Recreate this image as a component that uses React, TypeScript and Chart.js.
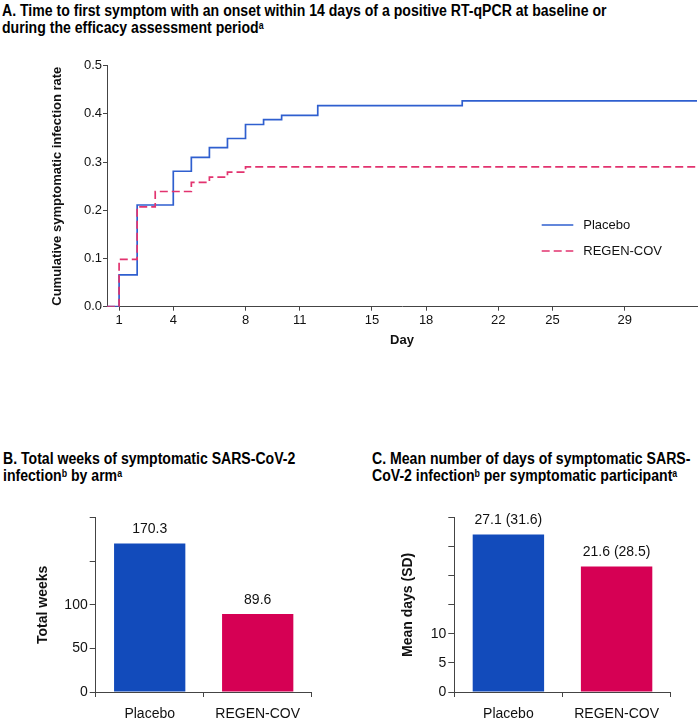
import React, { useEffect, useRef } from "react";
import { Chart, registerables } from "chart.js";

Chart.register(...registerables);

// ---------- Data ----------
const tickDays = [1, 4, 8, 11, 15, 18, 22, 25, 29];
const yTicksA = [0, 0.1, 0.2, 0.3, 0.4, 0.5];

const placeboDays = [0.33, 1, 2, 4, 5, 6, 7, 8, 9, 10, 12, 20, 33];
const placeboRate = [0, 0.066, 0.211, 0.281, 0.31, 0.33, 0.349, 0.378, 0.388, 0.397, 0.417, 0.427, 0.427];

const regenDays = [0.33, 1, 2, 3, 5, 6, 7, 8, 33];
const regenRate = [0, 0.098, 0.207, 0.239, 0.258, 0.269, 0.279, 0.29, 0.29];

const seriesNames = ["Placebo", "REGEN-COV"];
const barCategories = ["Placebo", "REGEN-COV"];
const totalWeeks = [170.3, 89.6];
const weeksTickLabels = [0, 50, 100];
const meanDays = [27.1, 21.6];
const sdDays = [31.6, 28.5];
const daysTickLabels = [0, 5, 10];

// ---------- Styles ----------
const FONT = "'Liberation Sans', Arial, sans-serif";
const TITLE_FONT = "'Liberation Sans', Arial, sans-serif";
const LINE_BLUE = "#2f5fcf";
const LINE_RED = "#e2336f";
const BAR_BLUE = "#124bbb";
const BAR_RED = "#d60054";
const AXIS = "#444444";
const TEXT = "#111111";

Chart.defaults.font.family = FONT;
Chart.defaults.color = TEXT;

const insideLegend = {
  id: "insideLegend",
  afterDraw(chart: any, _args: any, opts: any) {
    const ctx = chart.ctx;
    ctx.save();
    chart.data.datasets.forEach((ds: any, i: number) => {
      const y = opts.y + i * opts.gap;
      ctx.beginPath();
      ctx.strokeStyle = ds.borderColor;
      ctx.lineWidth = ds.borderWidth;
      ctx.setLineDash(ds.borderDash || []);
      ctx.moveTo(opts.x, y);
      ctx.lineTo(opts.x + opts.len, y);
      ctx.stroke();
      ctx.setLineDash([]);
      ctx.fillStyle = TEXT;
      ctx.font = `13px ${FONT}`;
      ctx.textBaseline = "middle";
      ctx.textAlign = "left";
      ctx.fillText(ds.label, opts.x + opts.len + opts.textGap, y);
    });
    ctx.restore();
  },
};

const valueLabels = {
  id: "valueLabels",
  afterDatasetsDraw(chart: any, _args: any, opts: any) {
    const ctx = chart.ctx;
    const meta = chart.getDatasetMeta(0);
    ctx.save();
    ctx.fillStyle = TEXT;
    ctx.font = `14px ${FONT}`;
    ctx.textAlign = "center";
    ctx.textBaseline = "middle";
    meta.data.forEach((bar: any, i: number) => {
      ctx.fillText(opts.labels[i], bar.x, bar.y - opts.offset);
    });
    ctx.restore();
  },
};

function KMChart() {
  const ref = useRef<HTMLCanvasElement>(null);
  useEffect(() => {
    const chart = new Chart(ref.current!, {
      type: "line",
      data: {
        datasets: [
          {
            label: seriesNames[0],
            data: placeboDays.map((d, i) => ({ x: d, y: placeboRate[i] })),
            borderColor: LINE_BLUE,
            borderWidth: 1.7,
            stepped: "before",
            pointRadius: 0,
            fill: false,
            order: 1,
          },
          {
            label: seriesNames[1],
            data: regenDays.map((d, i) => ({ x: d, y: regenRate[i] })),
            borderColor: LINE_RED,
            borderWidth: 1.7,
            borderDash: [8, 4],
            stepped: "before",
            pointRadius: 0,
            fill: false,
            order: 0,
          },
        ],
      },
      options: {
        responsive: false,
        animation: false,
        events: [],
        layout: { padding: { top: 15.7, right: 2, left: 0, bottom: 0 } },
        plugins: {
          legend: { display: false },
          tooltip: { enabled: false },
          insideLegend: { x: 541.7, y: 175, gap: 26, len: 31.6, textGap: 10 },
        } as any,
        scales: {
          x: {
            type: "linear",
            min: 0.33,
            max: 33,
            afterBuildTicks: (s: any) => {
              s.ticks = tickDays.map((v) => ({ value: v }));
            },
            afterFit: (s: any) => {
              s.height = 43.3;
            },
            ticks: {
              autoSkip: false,
              maxRotation: 0,
              padding: 2,
              color: TEXT,
              font: { size: 13 },
              callback: (v: any) => String(v),
            },
            grid: { display: true, drawOnChartArea: false, drawTicks: true, tickLength: 4, color: AXIS },
            border: { display: true, color: AXIS, width: 1 },
            title: {
              display: true,
              text: "Day",
              color: TEXT,
              font: { size: 13, weight: "bold" },
              padding: { top: 0, bottom: 2.2 },
            },
          },
          y: {
            type: "linear",
            min: 0,
            max: 0.5,
            afterBuildTicks: (s: any) => {
              s.ticks = yTicksA.map((v) => ({ value: v }));
            },
            afterFit: (s: any) => {
              s.width = 107;
            },
            ticks: {
              padding: 1,
              color: TEXT,
              font: { size: 13 },
              callback: (v: any) => Number(v).toFixed(1),
            },
            grid: { display: true, drawOnChartArea: false, drawTicks: true, tickLength: 4, color: AXIS },
            border: { display: true, color: AXIS, width: 1 },
            title: {
              display: true,
              text: "Cumulative symptomatic infection rate",
              color: TEXT,
              font: { size: 13, weight: "bold" },
              padding: { top: 50, bottom: 0 },
            },
          },
        },
      },
      plugins: [insideLegend],
    } as any);
    return () => chart.destroy();
  }, []);
  return (
    <canvas
      ref={ref}
      width={699}
      height={300}
      style={{ position: "absolute", left: 0, top: 50, width: 699, height: 300 }}
    />
  );
}

type BarProps = {
  left: number;
  width: number;
  values: number[];
  labels: string[];
  max: number;
  step: number;
  shownTicks: number[];
  yTitle: string;
  yAxisWidth: number;
  titlePad: number;
  padRight: number;
};

function BarChart(p: BarProps) {
  const ref = useRef<HTMLCanvasElement>(null);
  useEffect(() => {
    const chart = new Chart(ref.current!, {
      type: "bar",
      data: {
        labels: barCategories,
        datasets: [
          {
            data: p.values,
            backgroundColor: [BAR_BLUE, BAR_RED],
            borderWidth: 0,
            barPercentage: 0.66,
            categoryPercentage: 1,
          },
        ],
      },
      options: {
        responsive: false,
        animation: false,
        events: [],
        layout: { padding: { top: 22.7, right: p.padRight, left: 0, bottom: 0 } },
        plugins: {
          legend: { display: false },
          tooltip: { enabled: false },
          valueLabels: { labels: p.labels, offset: 14 },
        } as any,
        scales: {
          x: {
            afterFit: (s: any) => {
              s.height = 28;
            },
            ticks: { padding: 9, color: TEXT, font: { size: 14 } },
            grid: { display: true, offset: true, drawOnChartArea: false, drawTicks: true, tickLength: 5, color: AXIS },
            border: { display: true, color: AXIS, width: 1 },
          },
          y: {
            min: 0,
            max: p.max,
            afterFit: (s: any) => {
              s.width = p.yAxisWidth;
            },
            ticks: {
              stepSize: p.step,
              padding: 2,
              color: TEXT,
              font: { size: 14 },
              callback: (v: any) => (p.shownTicks.includes(Number(v)) ? String(v) : ""),
            },
            grid: { display: true, drawOnChartArea: false, drawTicks: true, tickLength: 6, color: AXIS },
            border: { display: true, color: AXIS, width: 1 },
            title: {
              display: true,
              text: p.yTitle,
              color: TEXT,
              font: { size: 14, weight: "bold" },
              padding: { top: p.titlePad, bottom: 0 },
            },
          },
        },
      },
      plugins: [valueLabels],
    } as any);
    return () => chart.destroy();
  }, []);
  return (
    <canvas
      ref={ref}
      width={p.width}
      height={225}
      style={{ position: "absolute", left: p.left, top: 495, width: p.width, height: 225 }}
    />
  );
}

const titleStyle: React.CSSProperties = {
  position: "absolute",
  fontFamily: TITLE_FONT,
  fontWeight: "bold",
  fontSize: 16,
  lineHeight: "17px",
  color: "#000",
  whiteSpace: "nowrap",
  transform: "scaleX(0.88)",
  transformOrigin: "0 0",
};
const supStyle: React.CSSProperties = { fontSize: 10, verticalAlign: "4px", lineHeight: 0 };

export default function App() {
  return (
    <div style={{ position: "absolute", left: 0, top: 0, width: 699, height: 720, background: "#fff", overflow: "hidden" }}>
      <div style={{ ...titleStyle, left: 2, top: 2 }}>
        A. Time to first symptom with an onset within 14 days of a positive RT-qPCR at baseline or
        <br />
        during the efficacy assessment period<span style={supStyle}>a</span>
      </div>
      <KMChart />
      <div style={{ ...titleStyle, left: 3, top: 450 }}>
        B. Total weeks of symptomatic SARS-CoV-2
        <br />
        infection<span style={supStyle}>b</span> by arm<span style={supStyle}>a</span>
      </div>
      <div style={{ ...titleStyle, left: 372, top: 450 }}>
        C. Mean number of days of symptomatic SARS-
        <br />
        CoV-2 infection<span style={supStyle}>b</span> per symptomatic participant<span style={supStyle}>a</span>
      </div>
      <BarChart
        left={0}
        width={350}
        values={totalWeeks}
        labels={totalWeeks.map((v) => v.toFixed(1))}
        max={200}
        step={50}
        shownTicks={weeksTickLabels}
        yTitle="Total weeks"
        yAxisWidth={95.7}
        titlePad={35}
        padRight={38.3}
      />
      <BarChart
        left={350}
        width={349}
        values={meanDays}
        labels={meanDays.map((v, i) => `${v.toFixed(1)} (${sdDays[i].toFixed(1)})`)}
        max={30}
        step={5}
        shownTicks={daysTickLabels}
        yTitle="Mean days (SD)"
        yAxisWidth={104.3}
        titlePad={49.3}
        padRight={28.3}
      />
    </div>
  );
}
